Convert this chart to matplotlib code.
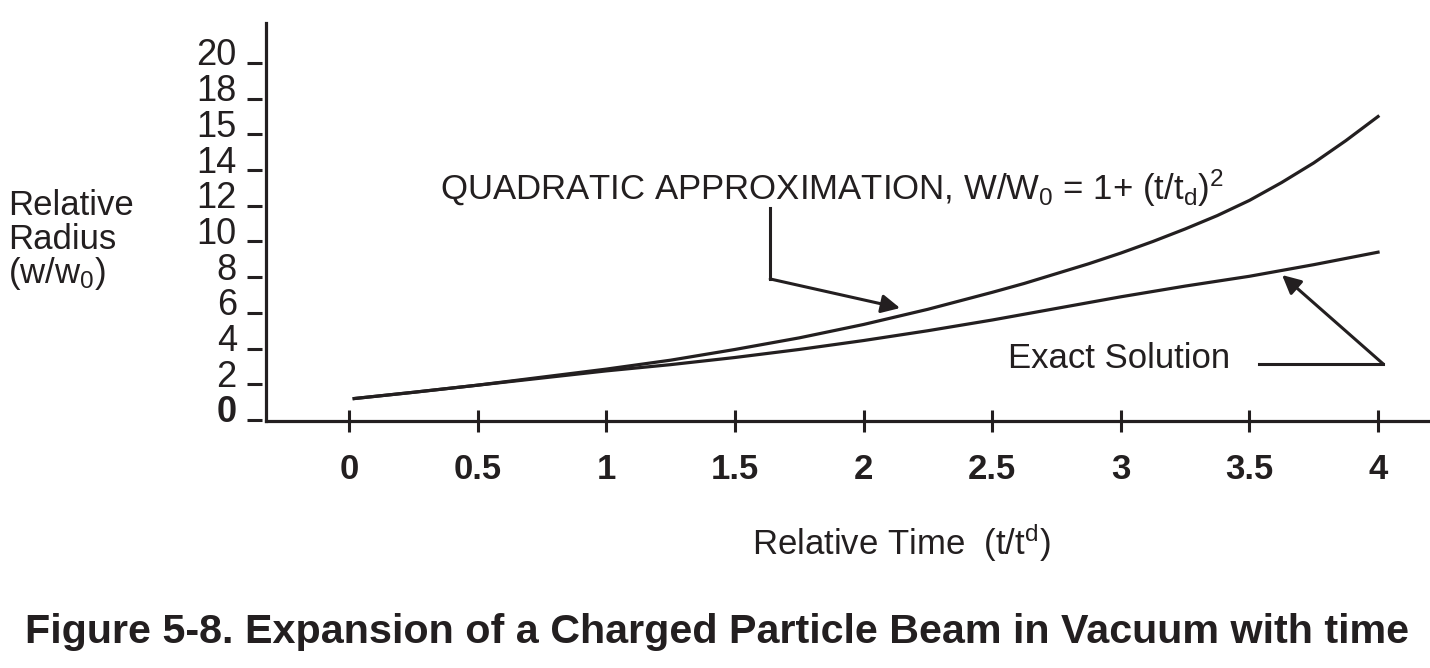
import matplotlib
matplotlib.use("Agg")
import matplotlib.pyplot as plt
import matplotlib.transforms as mtransforms

plt.rcParams['font.family'] = ['Liberation Sans', 'DejaVu Sans']
plt.rcParams['mathtext.fontset'] = 'custom'
plt.rcParams['mathtext.rm'] = 'Liberation Sans'
plt.rcParams['mathtext.it'] = 'Liberation Sans'

INK = '#231f20'

# values
quad_t = [0.02, 0.25, 0.5, 0.75, 1.0, 1.25, 1.5, 1.75, 2.0, 2.25, 2.5,
          2.625, 2.75, 2.875, 3.0, 3.125, 3.25, 3.375, 3.5, 3.625, 3.75,
          3.875, 4.0]
quadratic = [1.2, 1.55, 1.95, 2.4, 2.85, 3.35, 3.95, 4.6, 5.35, 6.2, 7.15,
             7.65, 8.2, 8.75, 9.35, 10.0, 10.7, 11.45, 12.3, 13.3, 14.4,
             15.65, 17.0]
exact_t = [0.02, 0.25, 0.5, 0.75, 1.0, 1.25, 1.5, 1.75, 2.0, 2.25, 2.5,
           2.75, 3.0, 3.25, 3.5, 3.75, 4.0]
exact = [1.2, 1.55, 1.95, 2.35, 2.75, 3.1, 3.5, 3.95, 4.45, 5.0, 5.6,
         6.25, 6.9, 7.5, 8.05, 8.7, 9.4]

x_ticks = [0, 0.5, 1, 1.5, 2, 2.5, 3, 3.5, 4]
x_labels = ['0', '0.5', '1', '1.5', '2', '2.5', '3', '3.5', '4']
y_ticks = [0, 2, 4, 6, 8, 10, 12, 14, 16, 18, 20]
y_labels = ['0', '2', '4', '6', '8', '10', '12', '14', '15', '18', '20']

FS = 25

fig = plt.figure(figsize=(14.3, 6.68), dpi=100)
ax = fig.add_axes([0.186, 0.3698, 0.814, 0.5958])

ax.plot(quad_t, quadratic, color=INK, lw=2.3, solid_joinstyle='round')
ax.plot(exact_t, exact, color=INK, lw=2.3, solid_joinstyle='round')

ax.set_xlim(-0.323, 4.202)
ax.set_ylim(-0.056, 22.24)

for side in ['top', 'right']:
    ax.spines[side].set_visible(False)
for side in ['left', 'bottom']:
    ax.spines[side].set_linewidth(2.3)
    ax.spines[side].set_color(INK)

ax.set_xticks(x_ticks)
ax.set_xticklabels(x_labels, fontsize=FS, fontweight='bold', color=INK)
ax.tick_params(axis='x', direction='inout', length=16, width=2.2,
               color=INK, pad=15)

ax.set_yticks(y_ticks)
ax.set_yticklabels(y_labels, fontsize=26, color=INK)
ax.tick_params(axis='y', length=0, pad=21)
shift = mtransforms.ScaledTranslation(0, 0.11, fig.dpi_scale_trans)
for lab in ax.get_yticklabels():
    lab.set_transform(lab.get_transform() + shift)
    if lab.get_text() == '0':
        lab.set_fontweight('bold')

# detached dashes left of the y axis
ytr = mtransforms.blended_transform_factory(ax.transAxes, ax.transData)
ax.hlines(y_ticks, -0.0163, -0.0034, transform=ytr, color=INK, lw=2.2,
          clip_on=False)

# annotations
ax.text(0.354, 12.32,
        r'QUADRATIC APPROXIMATION, W/W$_0$ = 1+ (t/t$_\mathrm{d}$)$^2$',
        fontsize=FS, color=INK, va='baseline', ha='left')
ax.plot([1.637, 1.637], [11.88, 7.90], color=INK, lw=2.2)
ax.annotate('', xy=(2.142, 6.27), xytext=(1.637, 7.90),
            arrowprops=dict(arrowstyle='-|>', mutation_scale=28, lw=2.2,
                            color=INK, shrinkA=0, shrinkB=0))

ax.text(2.562, 2.91, 'Exact Solution', fontsize=FS, color=INK,
        va='baseline', ha='left')
ax.plot([3.537, 4.02], [3.14, 3.14], color=INK, lw=2.2)
ax.annotate('', xy=(3.627, 8.12), xytext=(4.02, 3.14),
            arrowprops=dict(arrowstyle='-|>', mutation_scale=28, lw=2.2,
                            color=INK, shrinkA=0, shrinkB=0))

# axis labels
fig.text(8 / 1430, 1 - 215 / 668, 'Relative', fontsize=FS, color=INK,
         va='baseline')
fig.text(8 / 1430, 1 - 249 / 668, 'Radius', fontsize=FS, color=INK,
         va='baseline')
fig.text(8 / 1430, 1 - 283 / 668, r'(w/w$_0$)', fontsize=FS, color=INK,
         va='baseline')
fig.text(752 / 1430, 1 - 555 / 668, r'Relative Time  (t/t$^\mathrm{d}$)',
         fontsize=FS, color=INK, va='baseline')

fig.text(717 / 1430, 1 - 643 / 668,
         'Figure 5-8. Expansion of a Charged Particle Beam in Vacuum with time',
         fontsize=29.7, fontweight='bold', color=INK, ha='center',
         va='baseline')

fig.savefig('out.png', dpi=100)
